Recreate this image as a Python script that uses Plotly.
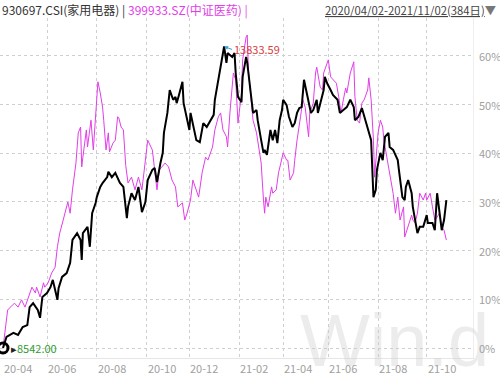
import plotly.graph_objects as go

# ---- data (trading-day index from 2020-04-02, percent change vs. start) ----
idx_a = [0, 3, 9, 13, 17, 21, 23, 26, 30, 32, 34, 38, 41, 43, 47, 48, 51, 55, 58, 60, 64, 67, 68, 69, 73, 75, 77, 80,
         81, 84, 86, 90, 91, 94, 97, 99, 101, 104, 107, 108, 111, 114, 117, 120, 123, 125, 129, 131, 133, 136, 138,
         139, 142, 144, 147, 149, 150, 152, 155, 156, 159, 161, 162, 164, 167, 170, 173, 176, 179, 182, 183, 185, 187,
         189, 191, 193, 194, 198, 200, 201, 203, 206, 207, 210, 211, 212, 214, 216, 219, 220, 223, 225, 226, 228, 231,
         233, 235, 237, 239, 241, 242, 245, 247, 250, 252, 254, 256, 258, 260, 262, 264, 266, 268, 271, 272, 275, 277,
         278, 280, 283, 285, 289, 291, 294, 297, 300, 303, 304, 307, 310, 313, 315, 318, 320, 322, 323, 326, 328, 330,
         333, 334, 337, 341, 342, 345, 347, 348, 350, 353, 354, 356, 358, 360, 363, 366, 367, 371, 373, 375, 377, 379,
         381, 383]
pct_a = [0.0, 2.3, 3.1, 2.7, 4.3, 4.7, 8.4, 9.2, 7.8, 6.2, 10.5, 11.3, 12.5, 14.0, 9.9, 12.3, 14.6, 15.4, 17.5, 22.2,
         23.6, 22.2, 18.1, 23.6, 24.9, 20.8, 27.7, 29.8, 31.0, 33.1, 33.9, 35.1, 36.2, 35.1, 36.0, 35.1, 33.9, 33.1,
         26.7, 29.0, 31.8, 30.4, 33.1, 27.9, 30.0, 34.5, 36.6, 37.0, 34.1, 38.0, 40.1, 44.2, 48.3, 53.0, 51.0, 51.6,
         50.3, 52.0, 54.7, 50.3, 46.8, 44.8, 48.3, 46.2, 42.7, 42.3, 46.2, 45.4, 46.8, 47.9, 51.0, 53.6, 56.5, 59.2,
         61.95, 58.6, 60.6, 59.8, 60.6, 56.5, 51.6, 50.5, 55.7, 59.8, 58.6, 56.5, 51.6, 48.3, 48.9, 46.8, 42.7, 40.1,
         40.7, 39.7, 44.8, 42.7, 44.8, 42.1, 46.8, 48.9, 51.0, 49.9, 47.5, 45.4, 46.2, 48.3, 49.3, 49.5, 55.1, 53.0,
         51.0, 48.3, 48.9, 51.0, 48.3, 51.0, 53.0, 55.7, 54.4, 53.0, 52.0, 51.0, 48.3, 48.9, 49.5, 51.0, 49.5, 46.8,
         47.5, 49.3, 46.8, 45.4, 42.7, 31.0, 32.5, 36.6, 40.1, 38.6, 43.4, 44.2, 41.3, 40.7, 38.6, 36.6, 31.0, 30.4,
         33.1, 34.5, 31.8, 29.0, 26.3, 23.6, 24.9, 24.9, 27.3, 25.7, 25.7, 24.2, 31.8, 27.7, 24.2, 26.3, 30.4]

idx_b = [0, 2, 4, 8, 10, 13, 16, 19, 22, 25, 28, 29, 32, 35, 36, 39, 42, 45, 47, 49, 52, 55, 56, 58, 60, 63, 65, 67,
         68, 69, 72, 73, 76, 78, 80, 81, 82, 84, 86, 87, 89, 91, 92, 95, 97, 99, 100, 102, 104, 106, 108, 111, 114,
         117, 120, 123, 125, 129, 130, 133, 135, 137, 140, 143, 146, 149, 151, 155, 157, 159, 162, 164, 166, 169, 172,
         175, 177, 181, 183, 186, 188, 190, 193, 194, 196, 199, 201, 202, 203, 206, 207, 210, 211, 212, 214, 216, 219,
         220, 223, 225, 226, 227, 229, 232, 233, 236, 238, 240, 242, 245, 246, 248, 251, 252, 254, 257, 259, 261, 263,
         264, 265, 268, 270, 271, 274, 276, 277, 279, 281, 283, 285, 288, 290, 292, 294, 296, 297, 300, 303, 304, 306,
         308, 310, 312, 315, 316, 318, 320, 321, 322, 324, 326, 328, 329, 331, 333, 335, 337, 339, 341, 343, 346, 347,
         350, 353, 354, 356, 358, 360, 363, 365, 366, 369, 371, 373, 375, 377, 379, 381, 383]
pct_b = [0.0, 4.3, 7.8, 8.8, 9.2, 8.4, 9.9, 8.4, 10.5, 12.5, 11.3, 12.5, 10.5, 13.4, 12.5, 13.4, 15.4, 16.6, 20.8,
         23.6, 26.3, 29.0, 30.0, 27.7, 32.5, 38.0, 44.2, 45.4, 37.2, 39.2, 44.8, 41.3, 46.8, 40.7, 48.9, 53.0, 54.7,
         52.4, 49.5, 46.8, 40.7, 44.2, 40.3, 42.1, 42.7, 47.5, 47.3, 45.4, 44.8, 37.5, 33.9, 35.1, 32.5, 35.1, 32.5,
         38.6, 42.7, 40.7, 38.6, 32.5, 36.6, 37.2, 38.0, 37.2, 34.5, 33.1, 29.0, 29.8, 26.3, 27.7, 30.4, 34.5, 33.1,
         31.0, 36.0, 39.2, 38.6, 41.3, 44.8, 47.5, 48.3, 44.8, 43.4, 41.3, 48.3, 56.5, 55.1, 49.5, 46.2, 52.4, 59.2,
         63.9, 64.3, 57.1, 52.4, 46.8, 44.2, 42.7, 38.0, 30.4, 27.7, 31.0, 29.0, 33.1, 31.8, 32.5, 36.0, 38.0, 40.1,
         38.6, 38.6, 34.5, 36.0, 38.6, 42.7, 47.5, 51.0, 49.5, 45.4, 43.4, 48.3, 50.3, 56.5, 57.7, 53.6, 53.0, 56.5,
         57.7, 59.2, 55.7, 55.1, 54.4, 51.6, 48.3, 51.0, 53.4, 52.4, 56.5, 58.8, 51.6, 46.8, 46.2, 50.3, 51.0, 53.0,
         55.5, 51.0, 42.7, 35.1, 38.6, 44.2, 46.8, 45.4, 42.7, 40.1, 37.2, 35.1, 31.8, 27.7, 31.0, 26.3, 29.0, 22.8,
         25.3, 27.3, 26.3, 25.7, 27.7, 31.8, 30.4, 31.8, 30.4, 31.8, 29.0, 26.3, 26.9, 27.7, 24.9, 24.2, 22.2]

month_idx = [0, 38, 81, 124, 161, 204, 242, 281, 324, 366]
month_labels = ["20-04", "20-06", "20-08", "20-10", "20-12", "21-02", "21-04", "21-06", "21-08", "21-10"]
y_ticks = [0, 10, 20, 30, 40, 50, 60]
y_tick_labels = ["0%", "10%", "20%", "30%", "40%", "50%", "60%"]

name_a = "930697.CSI(家用电器)"
name_b = "399933.SZ(中证医药)"
base_a = "8542.00"
max_a = "13833.59"
period_text = "2020/04/02-2021/11/02(384日)"

BLACK = "#000000"
MAGENTA = "#E23DE8"
GRID = "#CFCFCF"
TICK = "#A0A0A0"
FONT = "Noto Sans CJK SC, Noto Sans, sans-serif"

fig = go.Figure()
fig.add_trace(go.Scatter(x=idx_b, y=pct_b, mode="lines", name=name_b,
                         line=dict(color=MAGENTA, width=1)))
fig.add_trace(go.Scatter(x=idx_a, y=pct_a, mode="lines", name=name_a,
                         line=dict(color=BLACK, width=2)))
fig.add_trace(go.Scatter(x=idx_a[:1], y=pct_a[:1], mode="markers",
                         marker=dict(symbol="circle-open", size=10, color=BLACK,
                                     line=dict(color=BLACK, width=3)),
                         showlegend=False))

imax = pct_a.index(max(pct_a))

fig.update_layout(
    width=500, height=375,
    margin=dict(l=0, r=27, t=18, b=17),
    paper_bgcolor="white", plot_bgcolor="white",
    showlegend=False,
    font=dict(family=FONT, size=11, color=TICK),
    xaxis=dict(range=[-2.6, 406], tickmode="array", tickvals=month_idx, showticklabels=False,
               showgrid=False, zeroline=False, ticks="",
               showline=True, linecolor="#E6E6E6", linewidth=1,
               minor=dict(tickvals=month_idx[1:], showgrid=True, gridcolor=GRID, griddash="dot", gridwidth=1)),
    yaxis=dict(range=[-2.05, 67.8], side="right", tickmode="array", tickvals=y_ticks, showticklabels=False,
               showgrid=True, gridcolor=GRID, griddash="dot", gridwidth=1, zeroline=False, ticks="",
               showline=True, linecolor="#EEEEEE", linewidth=1),
)

ann = []
# watermark
ann.append(dict(xref="paper", yref="paper", x=0.63, y=-0.075, xanchor="left", yanchor="bottom",
                text="Win.d", showarrow=False,
                font=dict(family="Liberation Sans, Arial", size=74, color="rgba(200,200,200,0.35)")))
# x tick labels (left-aligned at month start)
for xv, lab in zip(month_idx, month_labels):
    ann.append(dict(x=xv, xref="x", yref="paper", y=-0.029, xanchor="left", yanchor="middle",
                    text=lab, showarrow=False, xshift=-1, font=dict(size=11, color=TICK)))
# y tick labels on the right
for yv, lab in zip(y_ticks, y_tick_labels):
    ann.append(dict(xref="paper", x=1.008, y=yv, yref="y", xanchor="left", yanchor="middle",
                    text=lab, showarrow=False, font=dict(size=11, color=TICK)))
# header
ann.append(dict(xref="paper", yref="paper", x=0.0, y=1.0235, xanchor="left", yanchor="middle",
                text=f"{name_a} | <span style='color:{MAGENTA}'>{name_b} |</span>",
                showarrow=False, font=dict(size=12, color="#333333")))
ann.append(dict(xref="paper", yref="paper", x=1.052, y=1.0235, xanchor="right", yanchor="middle",
                text=f"<u>{period_text}</u><span style='color:#777777'>▼</span>",
                showarrow=False, font=dict(size=11.3, color="#444444")))
# max / start annotations
ann.append(dict(x=idx_a[imax], y=pct_a[imax], text=max_a, showarrow=True, arrowhead=2, arrowsize=0.8,
                arrowwidth=1, arrowcolor="#3AA0D8", ax=8, ay=3, xanchor="left", yanchor="middle",
                font=dict(size=11, color="#D94040")))
ann.append(dict(x=idx_a[0], y=pct_a[0], text=f"<span style='color:#222222'>▸</span>{base_a}",
                showarrow=False, xanchor="left", yanchor="middle", xshift=6,
                font=dict(size=11, color="#2E9B2E")))
fig.update_layout(annotations=ann)

fig.write_html("out.html", config={"displayModeBar": False},
               post_script="document.body.style.margin='0';document.body.style.overflow='hidden';")
